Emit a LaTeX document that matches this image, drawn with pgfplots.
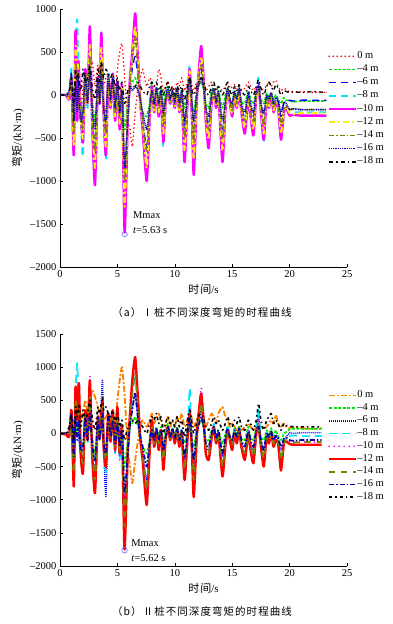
\documentclass[border=0pt]{standalone}
\usepackage{pgfplots}
\pgfplotsset{compat=1.18}
\usepackage{pgfplotstable}
\usepackage{fontspec}
\setmainfont{Liberation Serif}
\newfontfamily\cjk{Noto Sans CJK SC}
\newfontfamily\cjkcap[LetterSpace=10]{Noto Sans CJK SC}
\definecolor{olv}{RGB}{128,128,0}
\definecolor{nvy}{RGB}{0,0,170}
\definecolor{org}{RGB}{255,128,0}
\definecolor{grn}{RGB}{0,230,0}
\definecolor{cyn}{RGB}{0,230,255}
\definecolor{ylw}{RGB}{255,240,0}
\definecolor{mag}{RGB}{255,0,255}

\pgfplotstableread[row sep=\\]{
t a0 a4 a6 a8 a10 a12 a14 a16 a18\\
0.0 0 0 0 0 0 0 0 0 0\\
0.5 0 0 0 0 0 0 0 0 0\\
0.8 20 -30 -20 -40 -50 -40 -30 50 30\\
1.0 100 80 150 300 200 220 150 250 200\\
1.2 -250 -150 -400 -720 -700 -600 -450 -300 -100\\
1.35 150 100 300 500 750 550 350 150 300\\
1.5 -100 -80 100 880 -300 400 200 -200 150\\
1.6 50 120 -150 200 400 300 -100 200 250\\
1.8 -200 -100 -300 -250 -200 -250 -200 -300 50\\
2.0 100 -200 -450 -720 -550 -500 -400 -200 300\\
2.2 300 50 200 300 300 250 200 250 150\\
2.4 100 -50 -100 -150 -100 -100 -50 -100 200\\
2.6 200 150 400 780 800 600 450 300 350\\
2.8 400 -50 -200 -350 -300 -250 -200 -150 100\\
3.05 100 -300 -600 -1050 -1050 -850 -650 -400 -50\\
3.3 350 100 150 200 200 180 150 200 300\\
3.45 150 -50 -50 -100 -100 -80 -50 -100 150\\
3.6 250 150 300 730 720 550 400 250 380\\
3.8 100 -100 -200 -250 -200 -200 -150 -150 200\\
4.0 200 -200 -500 -750 -700 -600 -450 -300 300\\
4.2 250 100 200 250 200 200 150 250 250\\
4.4 100 -50 -100 -150 -150 -120 -100 -50 200\\
4.6 200 150 200 250 250 220 180 200 250\\
4.8 50 -100 -200 -300 -300 -250 -200 -150 100\\
5.0 300 100 150 150 150 120 100 150 200\\
5.2 500 -150 -300 -400 -400 -350 -250 -200 50\\
5.4 600 50 50 100 100 80 50 50 150\\
5.63 200 -400 -900 -1350 -1600 -1300 -1000 -850 -100\\
5.9 -300 -100 -300 -300 -300 -250 -200 -300 50\\
6.1 -400 100 100 200 200 150 150 100 100\\
6.3 -600 150 300 500 500 450 400 50 100\\
6.55 -200 200 450 850 950 800 680 100 100\\
6.8 100 100 200 400 400 350 300 50 150\\
7.0 200 -100 -100 -100 -100 -100 -50 -50 100\\
7.2 300 -200 -300 -400 -400 -350 -300 -200 50\\
7.55 100 -250 -600 -950 -1000 -850 -650 -400 0\\
7.8 200 -100 -200 -300 -300 -250 -200 -150 100\\
8.0 150 150 100 100 100 80 50 50 150\\
8.2 50 -100 -150 -200 -200 -180 -150 -100 100\\
8.4 100 100 50 50 50 50 30 80 150\\
8.6 300 -50 -150 -250 -250 -200 -150 -100 50\\
8.8 200 100 50 0 0 0 20 50 100\\
9.0 50 -150 -300 -600 -550 -450 -350 -200 0\\
9.2 100 50 -50 -100 -100 -80 -50 -50 100\\
9.4 150 100 50 50 50 50 50 100 150\\
9.6 50 -50 -100 -100 -100 -80 -80 -50 50\\
9.8 100 50 30 30 30 30 20 50 100\\
10.0 50 -50 -100 -150 -150 -130 -100 -80 0\\
10.2 150 80 50 50 50 50 50 80 100\\
10.4 100 -50 -150 -200 -200 -180 -150 -100 50\\
10.6 200 50 0 0 0 0 0 50 100\\
10.85 50 -150 -400 -750 -780 -650 -500 -300 -50\\
11.1 150 50 -50 -100 -100 -80 -50 0 100\\
11.3 250 150 250 350 300 280 200 200 200\\
11.5 100 -100 -200 -300 -300 -250 -200 -100 50\\
11.65 50 -200 -450 -850 -930 -750 -550 -300 0\\
11.9 150 50 -50 -100 -100 -80 -50 0 100\\
12.05 100 100 150 200 200 180 150 100 150\\
12.3 150 150 300 450 570 450 350 200 200\\
12.55 100 50 50 100 100 80 80 50 150\\
12.7 50 -100 -200 -300 -300 -250 -200 -150 50\\
12.95 100 -150 -350 -600 -620 -520 -400 -250 0\\
13.2 150 50 -50 -100 -100 -80 -50 0 100\\
13.4 100 80 50 50 50 50 50 80 150\\
13.6 50 -50 -100 -150 -150 -130 -100 -80 50\\
13.8 100 50 0 0 0 0 0 50 100\\
14.15 50 -150 -400 -750 -780 -650 -500 -300 0\\
14.4 100 0 -100 -200 -200 -180 -150 -80 80\\
14.6 150 80 50 50 50 50 50 80 150\\
14.8 50 -50 -80 -100 -100 -90 -80 -50 50\\
15.0 100 -100 -150 -250 -250 -220 -180 -100 0\\
15.2 120 50 20 0 0 0 10 50 100\\
15.4 50 -50 -100 -150 -150 -130 -100 -50 50\\
15.6 100 50 50 50 50 50 40 80 120\\
15.8 50 -80 -150 -200 -200 -180 -150 -100 50\\
16.1 80 -100 -250 -450 -450 -380 -300 -200 0\\
16.4 150 50 -20 -50 -50 -40 -30 30 100\\
16.6 100 -50 -150 -250 -250 -220 -180 -100 50\\
16.85 50 -100 -250 -450 -470 -400 -320 -200 0\\
17.1 100 50 0 0 0 0 0 50 100\\
17.3 100 100 150 200 100 80 60 100 180\\
17.5 50 -50 -100 -200 -200 -180 -150 -100 80\\
17.75 80 -100 -250 -560 -520 -450 -350 -200 0\\
18.0 100 20 -30 -50 -50 -50 -40 0 100\\
18.2 150 -30 -80 -150 -150 -130 -100 -50 150\\
18.4 100 30 20 0 0 0 0 30 100\\
18.6 150 -50 -100 -200 -200 -180 -150 -100 50\\
18.8 170 0 -50 -100 -100 -90 -80 -30 120\\
19.0 100 -50 -80 -150 -150 -140 -120 -60 80\\
19.25 50 -100 -250 -500 -520 -450 -350 -200 0\\
19.5 80 -30 -100 -200 -200 -180 -160 -80 50\\
19.7 60 -60 -80 -150 -150 -140 -130 -100 40\\
20.0 40 -70 -60 -200 -240 -210 -170 -170 30\\
20.3 30 -80 -70 -200 -230 -220 -160 -160 40\\
21.0 40 -70 -60 -200 -240 -210 -170 -170 30\\
22.0 30 -70 -60 -200 -240 -210 -170 -170 40\\
23.2 30 -70 -60 -200 -240 -210 -170 -170 30\\
}\tabA

\pgfplotstableread[row sep=\\]{
t b0 b4 b6 b8 b10 b12 b14 b16 b18\\
0.0 0 0 0 0 0 0 0 0 0\\
0.5 -20 -10 0 0 0 -10 0 0 0\\
0.8 50 -30 -50 -40 -30 -50 -40 50 100\\
1.0 200 100 200 300 250 350 200 300 250\\
1.2 -300 -200 -500 -780 -700 -800 -600 -350 -100\\
1.35 300 150 400 600 650 700 500 250 400\\
1.5 100 -50 200 1060 300 200 300 -100 250\\
1.65 400 150 -100 300 500 760 400 200 450\\
1.8 200 -100 -300 -250 -200 -300 -200 -250 100\\
2.0 300 -200 -450 -600 -550 -600 -450 -200 350\\
2.2 500 50 200 300 300 350 250 250 200\\
2.4 300 -50 -100 -150 -100 -100 -50 -100 300\\
2.6 450 150 400 700 870 800 550 300 500\\
2.8 650 -50 -200 -350 -300 -300 -200 -150 250\\
3.05 550 -300 -600 -850 -900 -900 -700 -400 50\\
3.3 400 100 200 200 250 250 200 250 400\\
3.45 300 -50 -50 -100 -100 -80 -50 -100 300\\
3.7 350 200 800 600 550 500 400 300 550\\
3.8 200 -100 -200 -250 -200 -200 -150 -150 350\\
4.0 250 -200 -950 -600 -550 -500 -400 -300 400\\
4.2 300 100 200 300 250 300 200 300 300\\
4.4 150 -50 -100 -150 -150 -120 -100 -50 250\\
4.6 300 150 250 300 300 350 250 200 350\\
4.8 100 -100 -200 -300 -300 -250 -200 -150 150\\
5.0 500 100 200 300 300 400 250 150 300\\
5.2 800 -150 -300 -400 -400 -300 -250 -200 100\\
5.4 1000 50 50 100 100 100 50 50 200\\
5.62 600 -500 -1100 -1400 -1500 -1750 -1400 -900 -100\\
5.9 -200 -100 -300 -300 -300 -300 -250 -300 100\\
6.1 -500 100 100 200 200 300 200 150 150\\
6.3 -750 150 400 600 700 800 600 350 200\\
6.55 -400 250 600 850 1000 1150 900 600 150\\
6.8 -100 100 200 400 400 500 350 200 200\\
7.0 100 -100 -100 -100 -100 -100 -50 -50 150\\
7.2 200 -200 -300 -400 -400 -400 -300 -200 100\\
7.55 100 -300 -700 -950 -1000 -1080 -850 -500 0\\
7.8 200 -100 -200 -300 -300 -300 -200 -150 150\\
8.0 300 150 100 150 150 200 100 50 250\\
8.2 150 -100 -150 -200 -200 -200 -150 -100 200\\
8.4 250 100 50 50 50 50 30 80 300\\
8.6 300 -50 -150 -250 -250 -250 -150 -100 150\\
8.8 200 100 50 50 50 50 20 50 250\\
9.0 100 -150 -300 -500 -500 -550 -400 -250 0\\
9.2 150 50 -50 -100 -100 -100 -50 -50 150\\
9.4 250 150 100 100 100 100 80 100 250\\
9.6 100 -50 -100 -100 -100 -100 -80 -50 150\\
9.8 200 80 50 50 50 50 40 80 200\\
10.0 100 -50 -100 -150 -150 -150 -100 -80 100\\
10.2 250 100 50 50 50 50 50 80 250\\
10.4 150 -50 -150 -200 -200 -200 -150 -100 100\\
10.6 300 50 0 0 0 0 0 50 200\\
10.85 100 -150 -400 -650 -650 -700 -550 -350 -50\\
11.1 200 50 -50 -100 -100 -100 -50 0 200\\
11.3 400 200 300 680 400 300 250 250 350\\
11.5 200 -100 -200 -300 -300 -300 -200 -150 150\\
11.65 100 -200 -500 -850 -900 -960 -700 -400 0\\
11.9 200 50 -50 -100 -100 -100 -50 0 150\\
12.05 300 100 150 200 200 250 150 100 250\\
12.3 350 200 350 500 690 600 450 250 300\\
12.55 200 50 50 100 100 100 80 50 200\\
12.7 100 -100 -200 -300 -300 -300 -200 -150 100\\
12.95 200 -100 -250 -400 -420 -400 -300 -200 50\\
13.2 300 50 -50 -100 -100 -80 -50 0 150\\
13.4 250 100 100 150 100 100 80 100 250\\
13.6 150 -50 -100 -150 -150 -150 -100 -80 150\\
13.8 300 50 0 0 0 0 0 50 200\\
14.15 400 -150 -350 -600 -620 -650 -500 -300 50\\
14.4 250 0 -100 -200 -200 -200 -150 -80 150\\
14.6 200 100 50 100 50 50 50 80 250\\
14.8 100 -50 -80 -100 -100 -100 -80 -50 150\\
15.0 150 -100 -150 -250 -250 -250 -180 -100 100\\
15.2 100 80 20 50 0 0 10 50 200\\
15.4 50 -50 -100 -150 -150 -150 -100 -50 150\\
15.6 100 100 50 100 50 50 40 80 250\\
15.8 50 -80 -150 -200 -200 -200 -150 -100 100\\
16.1 100 -100 -200 -350 -380 -400 -300 -200 50\\
16.4 150 100 50 50 50 0 -30 30 200\\
16.6 100 -50 -150 -250 -250 -250 -180 -100 150\\
16.85 50 -100 -250 -400 -420 -450 -350 -200 50\\
17.1 100 100 50 50 0 0 0 50 200\\
17.3 150 200 250 400 200 100 60 100 450\\
17.5 100 -50 -100 -200 -200 -200 -150 -100 200\\
17.75 80 -100 -250 -450 -480 -500 -380 -250 50\\
18.0 100 50 -30 -50 -50 -50 -40 0 200\\
18.2 150 -30 -80 -150 -150 -150 -100 -50 250\\
18.4 200 80 20 50 0 0 0 30 300\\
18.6 150 -50 -100 -200 -200 -200 -150 -100 150\\
18.8 280 50 -50 -100 -100 -100 -80 -30 200\\
19.0 150 -50 -80 -150 -150 -150 -120 -60 150\\
19.25 100 -100 -250 -480 -500 -560 -400 -200 50\\
19.5 150 0 -100 -150 -150 -150 -150 -80 150\\
19.7 100 20 -50 -100 -100 -120 -100 -60 120\\
20.0 80 60 10 -40 -120 -160 -130 -100 110\\
20.3 100 70 0 -30 -130 -170 -140 -110 100\\
21.0 80 70 10 -40 -130 -170 -130 -100 100\\
22.0 70 70 10 -40 -130 -170 -130 -100 100\\
22.8 80 70 10 -40 -130 -170 -130 -100 100\\
}\tabB

\pgfplotsset{
  myaxis/.style={
    scale only axis, width=287pt,
    xmin=0, xmax=25,
    axis x line*=bottom, axis y line*=left,
    xtick={0,5,...,25},
    tick align=inside, major tick length=3pt,
    tick style={black, line width=0.5pt},
    axis line style={black, line width=0.6pt},
    tick label style={font=\fontsize{10.5}{12}\selectfont},
    /pgf/number format/assume math mode=true,
    xlabel={{\cjkcap 时间}/s},
    ylabel={{\cjk 弯矩}/(kN·m)},
    label style={font=\fontsize{11}{13}\selectfont},
    legend cell align=left,
    every axis plot/.append style={smooth, tension=0.35, line join=round},
  }
}

\begin{document}
\begin{tikzpicture}
\path (0pt,0pt) rectangle (393pt,-624pt);
% ---------- (a)
\begin{axis}[myaxis, at={(60pt,-267pt)}, anchor=south west, height=258pt,
  ymin=-2000, ymax=1000, ytick={-2000,-1500,...,1000},
  yticklabels={–2000,–1500,–1000,–500,0,500,1000},
  legend image code/.code={\draw[#1, sharp plot] (0pt,0pt) -- (27pt,0pt);},
  legend style={draw=none, fill=none, font=\fontsize{10.5}{12}\selectfont,
      anchor=north west, at={(0.933,0.843)}, row sep=0pt, inner sep=0pt,
      nodes={inner sep=0pt, text height=8.5pt, text depth=4.7pt}}]
\addplot[red, line width=1.8pt, line cap=round, dash pattern=on 0pt off 4pt] table[x=t,y=a0] {\tabA};
\addlegendentry{0 m}
\addplot[grn, line width=1.6pt, dash pattern=on 3pt off 1.5pt] table[x=t,y=a4] {\tabA};
\addlegendentry{–4 m}
\addplot[blue, line width=1.3pt, dash pattern=on 7pt off 5pt] table[x=t,y=a6] {\tabA};
\addlegendentry{–6 m}
\addplot[cyn, line width=1.9pt, dash pattern=on 7pt off 5pt] table[x=t,y=a8] {\tabA};
\addlegendentry{–8 m}
\addplot[mag, line width=2.4pt] table[x=t,y=a10] {\tabA};
\addlegendentry{–10 m}
\addplot[ylw, line width=1.9pt, dash pattern=on 6pt off 3pt on 2pt off 3pt] table[x=t,y=a12] {\tabA};
\addlegendentry{–12 m}
\addplot[olv, line width=1.7pt, dash pattern=on 5pt off 2pt on 1.5pt off 2pt] table[x=t,y=a14] {\tabA};
\addlegendentry{–14 m}
\addplot[nvy, line width=1.5pt, dash pattern=on 1pt off 0.8pt] table[x=t,y=a16] {\tabA};
\addlegendentry{–16 m}
\addplot[black, line width=1.3pt, dash pattern=on 4pt off 3pt on 1.5pt off 3pt] table[x=t,y=a18] {\tabA};
\addlegendentry{–18 m}
\addplot[forget plot, only marks, mark=o, mark size=2.3pt, mark options={xscale=1.2, draw=blue!60, line width=0.6pt}] coordinates {(5.63,-1620)};
\node[anchor=west, font=\fontsize{10.5}{12}\selectfont, inner sep=0pt] at (axis cs:6.35,-1400) {Mmax};
\node[anchor=west, font=\fontsize{10.5}{12}\selectfont, inner sep=0pt] at (axis cs:6.35,-1570) {\textit{t}=5.63 s};
\end{axis}
\node[font=\fontsize{10.5}{12}\selectfont] at (202pt,-313pt) {{\cjkcap （a）Ⅰ桩不同深度弯矩的时程曲线}};
% ---------- (b)
\begin{axis}[myaxis, at={(60pt,-566pt)}, anchor=south west, height=232pt,
  ymin=-2000, ymax=1500, ytick={-2000,-1500,...,1500},
  yticklabels={–2000,–1500,–1000,–500,0,500,1000,1500},
  legend image code/.code={\draw[#1, sharp plot] (0pt,0pt) -- (27pt,0pt);},
  legend style={draw=none, fill=none, font=\fontsize{10.5}{12}\selectfont,
      anchor=north west, at={(0.933,0.763)}, row sep=0pt, inner sep=0pt,
      nodes={inner sep=0pt, text height=8.4pt, text depth=4.3pt}}]
\addplot[org, line width=1.8pt, dash pattern=on 6pt off 2pt on 2pt off 2pt] table[x=t,y=b0] {\tabB};
\addlegendentry{0 m}
\addplot[grn, line width=1.6pt, dash pattern=on 3pt off 1.5pt] table[x=t,y=b4] {\tabB};
\addlegendentry{–4 m}
\addplot[blue, line width=1.4pt, dash pattern=on 1pt off 1pt] table[x=t,y=b6] {\tabB};
\addlegendentry{–6 m}
\addplot[cyn, line width=1.7pt, dash pattern=on 8pt off 5pt] table[x=t,y=b8] {\tabB};
\addlegendentry{–8 m}
\addplot[mag, line width=1.9pt, line cap=round, dash pattern=on 0pt off 5pt] table[x=t,y=b10] {\tabB};
\addlegendentry{–10 m}
\addplot[red, line width=2.4pt] table[x=t,y=b12] {\tabB};
\addlegendentry{–12 m}
\addplot[olv, line width=1.9pt, dash pattern=on 6pt off 6pt] table[x=t,y=b14] {\tabB};
\addlegendentry{–14 m}
\addplot[nvy, line width=1.7pt, dash pattern=on 5pt off 2pt on 1.5pt off 2pt] table[x=t,y=b16] {\tabB};
\addlegendentry{–16 m}
\addplot[black, line width=1.6pt, dash pattern=on 3pt off 3pt on 1.5pt off 3pt] table[x=t,y=b18] {\tabB};
\addlegendentry{–18 m}
\addplot[forget plot, only marks, mark=o, mark size=2.5pt, mark options={xscale=1.1, yscale=1.2, draw=blue!60, line width=0.6pt}] coordinates {(5.62,-1760)};
\node[anchor=west, font=\fontsize{10.5}{12}\selectfont, inner sep=0pt] at (axis cs:6.2,-1660) {Mmax};
\node[anchor=west, font=\fontsize{10.5}{12}\selectfont, inner sep=0pt] at (axis cs:6.2,-1880) {\textit{t}=5.62 s};
\end{axis}
\node[font=\fontsize{10.5}{12}\selectfont] at (202pt,-612pt) {{\cjkcap （b）Ⅱ桩不同深度弯矩的时程曲线}};
\end{tikzpicture}
\end{document}
